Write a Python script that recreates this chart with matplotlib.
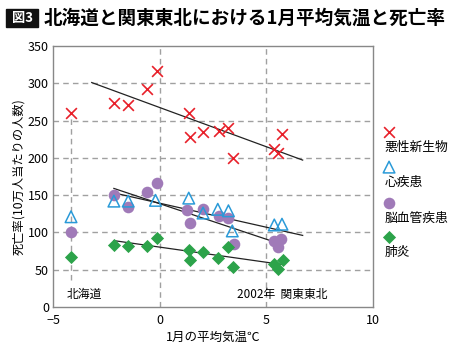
import matplotlib
matplotlib.use("Agg")
import matplotlib.pyplot as plt
from matplotlib.patches import FancyBboxPatch

plt.rcParams["font.family"] = ["Noto Sans CJK JP", "DejaVu Sans"]

# data (x: Jan. mean temperature, y: deaths per 100k)
cancer_x = [-4.16, -2.15, -1.48, -0.59, -0.13, 1.36, 1.43, 2.04, 2.76, 3.21, 3.44, 5.36, 5.56, 5.72]
cancer_y = [260, 274, 271, 292, 317, 260, 228, 235, 236, 240, 200, 212, 207, 232]
heart_x = [-4.16, -2.15, -1.48, -0.2, 1.36, 2.03, 2.72, 3.22, 3.4, 5.37, 5.73]
heart_y = [121, 142, 142, 143, 146, 126, 131, 129, 102, 110, 111]
stroke_x = [-4.16, -2.15, -1.48, -0.59, -0.13, 1.29, 1.43, 2.04, 2.76, 3.22, 3.47, 5.37, 5.69, 5.53]
stroke_y = [100, 150, 134, 154, 166, 130, 112, 132, 122, 119, 85, 88, 91, 80]
pneu_x = [-4.16, -2.15, -1.48, -0.59, -0.15, 1.36, 1.43, 2.03, 2.72, 3.22, 3.43, 5.37, 5.76, 5.56]
pneu_y = [67, 83, 82, 82, 92, 76, 63, 74, 66, 80, 53, 58, 63, 51]

# trend lines (end points)
cancer_fit_x, cancer_fit_y = [-3.19, 6.70], [301, 197]
heart_fit_x, heart_fit_y = [-2.15, 6.70], [153, 96]
stroke_fit_x, stroke_fit_y = [-2.15, 5.61], [159, 85]
pneu_fit_x, pneu_fit_y = [-2.15, 5.73], [89, 57]

labels = ["悪性新生物", "心疾患", "脳血管疾患", "肺炎"]
red, blue, purple, green = "#e8202a", "#2a9ad8", "#a07ab8", "#2ca34a"

fig = plt.figure(figsize=(4.5, 3.58), dpi=100)
ax = fig.add_axes([0.118, 0.1425, 0.711, 0.729])

ax.set_xlim(-5, 10)
ax.set_ylim(0, 350)
ax.set_xticks([-5, 0, 5, 10])
ax.set_xticklabels(["\u22125", "0", "5", "10"])
ax.set_yticks(range(0, 351, 50))
ax.tick_params(length=0, labelsize=9)
ax.tick_params(axis="x", pad=5)
ax.tick_params(axis="y", pad=3)
for s in ax.spines.values():
    s.set_color("#888888")
    s.set_linewidth(1)

grid = dict(color="#a0a0a0", lw=1, ls=(0, (4, 3)), zorder=1)
for v in range(50, 301, 50):
    ax.axhline(v, **grid)
ax.axvline(0, **grid)
ax.axvline(5, **grid)
ax.plot([-4.16, -4.16], [36, 258], **grid)

for fx, fy in [(cancer_fit_x, cancer_fit_y), (heart_fit_x, heart_fit_y),
               (stroke_fit_x, stroke_fit_y), (pneu_fit_x, pneu_fit_y)]:
    ax.plot(fx, fy, color="#222222", lw=0.9, zorder=2)

ax.scatter(stroke_x, stroke_y, s=70, color=purple, lw=0, zorder=3)
ax.scatter(heart_x, heart_y, s=70, marker="^", facecolors="none", edgecolors=blue, lw=1.1, zorder=4)
ax.scatter(pneu_x, pneu_y, s=45, marker="D", color=green, lw=0, zorder=4)
ax.scatter(cancer_x, cancer_y, s=60, marker="x", color=red, lw=1.2, zorder=4)

ax.text(-4.35, 17, "北海道", fontsize=8.5, va="center", ha="left")
ax.text(3.64, 17, "2002年  関東東北", fontsize=8.5, va="center", ha="left")

ax.set_xlabel("1月の平均気温℃", fontsize=9, labelpad=3)
ax.set_ylabel("死亡率(10万人当たりの人数)", fontsize=8.8, labelpad=2)

# legend drawn by hand: marker above, label below
styles = [dict(marker="x", color=red, s=60, lw=1.2),
          dict(marker="^", facecolors="none", edgecolors=blue, s=70, lw=1.1),
          dict(marker="o", color=purple, s=70, lw=0),
          dict(marker="D", color=green, s=45, lw=0)]
mark_y = [0.670, 0.536, 0.400, 0.270]
for st, lab, my in zip(styles, labels, mark_y):
    ax.scatter([1.05], [my], transform=ax.transAxes, clip_on=False, **st)
    ax.text(1.035, my - 0.06, lab, transform=ax.transAxes, fontsize=9.2, va="center", ha="left")

# title
fig.patches.append(FancyBboxPatch((0.013, 0.925), 0.072, 0.05, boxstyle="square,pad=0",
                                  transform=fig.transFigure, color="#111111"))
fig.text(0.049, 0.95, "図3", color="white", fontsize=9.5, fontweight="bold", ha="center", va="center")
fig.text(0.097, 0.948, "北海道と関東東北における1月平均気温と死亡率", fontsize=13.4,
         fontweight="bold", ha="left", va="center")

fig.savefig("out.png", dpi=100)
